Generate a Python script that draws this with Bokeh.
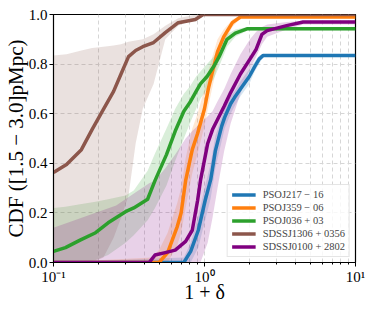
from bokeh.plotting import figure
from bokeh.models import FixedTicker, Range1d, PrintfTickFormatter, Legend, LegendItem
from bokeh.embed import file_html
from bokeh.resources import INLINE

# ---- data ----
names = ["PSOJ217 − 16", "PSOJ359 − 06", "PSOJ036 + 03", "SDSSJ1306 + 0356", "SDSSJ0100 + 2802"]
colors = ["#1f77b4", "#ff7f0e", "#2ca02c", "#8c564b", "#800080"]

blue_x = [0.1, 0.73, 0.81, 0.91, 1.01, 1.1, 1.18, 1.3, 1.36, 1.49, 1.58, 1.73, 1.98, 2.15, 2.3, 2.45, 10]
blue_y = [0, 0, 0.045, 0.13, 0.25, 0.335, 0.45, 0.55, 0.585, 0.64, 0.665, 0.70, 0.75, 0.79, 0.82, 0.835, 0.835]
blue_lo = [0, 0, 0, 0.06, 0.17, 0.26, 0.38, 0.49, 0.54, 0.60, 0.63, 0.67, 0.72, 0.77, 0.80, 0.83, 0.83]
blue_hi = [0, 0.02, 0.08, 0.19, 0.31, 0.40, 0.51, 0.59, 0.62, 0.67, 0.69, 0.73, 0.78, 0.81, 0.835, 0.84, 0.84]

orange_x = [0.1, 0.45, 0.5, 0.57, 0.66, 0.70, 0.75, 0.83, 0.9, 1.0, 1.06, 1.14, 1.22, 1.34, 1.53, 1.73, 10]
orange_y = [0, 0, 0, 0.04, 0.145, 0.2, 0.33, 0.455, 0.52, 0.62, 0.70, 0.78, 0.85, 0.91, 0.967, 0.99, 0.99]
orange_lo = [0, 0, 0, 0, 0.07, 0.12, 0.22, 0.36, 0.44, 0.55, 0.63, 0.72, 0.80, 0.88, 0.95, 0.985, 0.985]
orange_hi = [0, 0.02, 0.05, 0.12, 0.24, 0.30, 0.42, 0.54, 0.60, 0.70, 0.77, 0.84, 0.90, 0.94, 0.98, 0.995, 0.995]

green_x = [0.1, 0.12, 0.15, 0.19, 0.23, 0.3, 0.34, 0.42, 0.47, 0.56, 0.64, 0.73, 0.8, 0.88, 0.94, 1.04, 1.15, 1.25, 1.41, 1.6, 1.93, 10]
green_y = [0.045, 0.06, 0.09, 0.12, 0.16, 0.205, 0.22, 0.255, 0.33, 0.435, 0.53, 0.61, 0.645, 0.69, 0.72, 0.75, 0.79, 0.83, 0.90, 0.925, 0.943, 0.943]
green_lo = [0, 0, 0, 0.01, 0.03, 0.08, 0.11, 0.17, 0.22, 0.31, 0.41, 0.50, 0.56, 0.62, 0.66, 0.70, 0.74, 0.79, 0.87, 0.91, 0.935, 0.935]
green_hi = [0.22, 0.225, 0.235, 0.245, 0.255, 0.27, 0.29, 0.37, 0.44, 0.54, 0.62, 0.68, 0.71, 0.75, 0.77, 0.80, 0.83, 0.87, 0.92, 0.94, 0.95, 0.95]

brown_x = [0.1, 0.122, 0.153, 0.18, 0.214, 0.25, 0.28, 0.314, 0.35, 0.39, 0.46, 0.55, 0.67, 0.87, 0.98, 10]
brown_y = [0.363, 0.395, 0.455, 0.536, 0.617, 0.69, 0.76, 0.83, 0.855, 0.87, 0.887, 0.927, 0.967, 0.98, 1.0, 1.0]
brown_lo = [0, 0, 0, 0, 0.02, 0.10, 0.18, 0.27, 0.48, 0.62, 0.72, 0.90, 0.955, 0.985, 1.0, 1.0]
brown_hi = [0.835, 0.84, 0.855, 0.865, 0.87, 0.875, 0.88, 0.89, 0.895, 0.90, 0.92, 0.955, 0.985, 1.0, 1.0, 1.0]

purple_x = [0.1, 0.26, 0.43, 0.47, 0.55, 0.64, 0.75, 0.83, 0.9, 0.94, 1.05, 1.13, 1.22, 1.35, 1.49, 1.73, 2.0, 2.2, 2.4, 2.6, 3.5, 4.5, 10]
purple_y = [0, 0, 0, 0.03, 0.04, 0.05, 0.085, 0.13, 0.25, 0.33, 0.48, 0.536, 0.577, 0.63, 0.685, 0.76, 0.82, 0.86, 0.92, 0.935, 0.955, 0.97, 0.97]
purple_lo = [0, 0, 0, 0, 0, 0, 0, 0, 0, 0, 0.08, 0.18, 0.30, 0.45, 0.56, 0.68, 0.78, 0.83, 0.88, 0.91, 0.94, 0.96, 0.96]
purple_hi = [0.14, 0.23, 0.32, 0.33, 0.38, 0.435, 0.50, 0.53, 0.55, 0.56, 0.59, 0.61, 0.65, 0.70, 0.76, 0.84, 0.90, 0.93, 0.95, 0.96, 0.97, 0.975, 0.975]

x_major = [0.1, 1, 10]
x_labels = ["10⁻¹", "10⁰", "10¹"]
y_major = [0.0, 0.2, 0.4, 0.6, 0.8, 1.0]

series = [
    (blue_x, blue_y, blue_lo, blue_hi),
    (orange_x, orange_y, orange_lo, orange_hi),
    (green_x, green_y, green_lo, green_hi),
    (brown_x, brown_y, brown_lo, brown_hi),
    (purple_x, purple_y, purple_lo, purple_hi),
]

FONT = "Liberation Serif"

p = figure(frame_width=302, frame_height=248, x_axis_type="log",
           x_range=Range1d(0.1, 10), y_range=Range1d(0, 1),
           output_backend="svg", toolbar_location=None,
           min_border_left=45, min_border_right=11, min_border_top=14, min_border_bottom=30)
p.background_fill_color = "white"
p.border_fill_color = "white"
p.outline_line_color = "black"
p.outline_line_width = 1.2

for (xs, ys, lo, hi), c in zip(series, colors):
    p.varea(x=xs, y1=lo, y2=hi, fill_color=c, fill_alpha=0.18)

renderers = []
for (xs, ys, lo, hi), c in zip(series, colors):
    r = p.line(xs, ys, line_color=c, line_width=3.5, line_join="round")
    renderers.append(r)

minor = [m * 10.0 ** e for e in (-1, 0) for m in range(2, 10)]
p.xaxis.ticker = FixedTicker(ticks=x_major, minor_ticks=minor)
p.xaxis.major_label_overrides = {v: l for v, l in zip(x_major, x_labels)}
p.yaxis.ticker = FixedTicker(ticks=y_major, minor_ticks=[])
p.yaxis.formatter = PrintfTickFormatter(format="%.1f")

for ax in (p.xaxis, p.yaxis):
    ax.axis_line_color = "black"
    ax.major_tick_line_color = "black"
    ax.minor_tick_line_color = "black"
    ax.major_tick_out = 4
    ax.major_tick_in = 0
    ax.minor_tick_out = 2
    ax.minor_tick_in = 0
    ax.major_label_text_font = FONT
    ax.major_label_text_font_size = "15px"
    ax.major_label_text_color = "black"
    ax.axis_label_text_font = FONT
    ax.axis_label_text_font_style = "normal"
    ax.axis_label_text_color = "black"

p.yaxis.axis_label_text_font_size = "21px"
p.xaxis.axis_label_text_font_size = "20px"
p.yaxis.major_label_standoff = 2
p.yaxis.axis_label_standoff = -2
p.xaxis.major_label_standoff = 2
p.xaxis.axis_label_standoff = -7

p.xaxis.axis_label = "1 + δ"
p.yaxis.axis_label = "CDF ([1.5 − 3.0]pMpc)"

grid_col = "#d6d6d6"
p.xgrid.ticker = p.xaxis.ticker
p.xgrid.grid_line_color = grid_col
p.xgrid.grid_line_dash = "4 3"
p.xgrid.minor_grid_line_color = grid_col
p.xgrid.minor_grid_line_dash = "4 3"
p.ygrid.grid_line_color = grid_col
p.ygrid.grid_line_dash = "4 3"

items = [LegendItem(label=n, renderers=[r]) for n, r in zip(names, renderers)]
legend = Legend(items=items, location="bottom_right")
legend.label_text_font = FONT
legend.label_text_font_size = "10.5px"
legend.glyph_width = 24
legend.glyph_height = 11
legend.label_height = 11
legend.label_standoff = 7
legend.spacing = 2
legend.padding = 4
legend.margin = 5
legend.border_line_color = "#cccccc"
legend.background_fill_alpha = 0.8
p.add_layout(legend)

open("out.html", "w").write(file_html(p, INLINE))
